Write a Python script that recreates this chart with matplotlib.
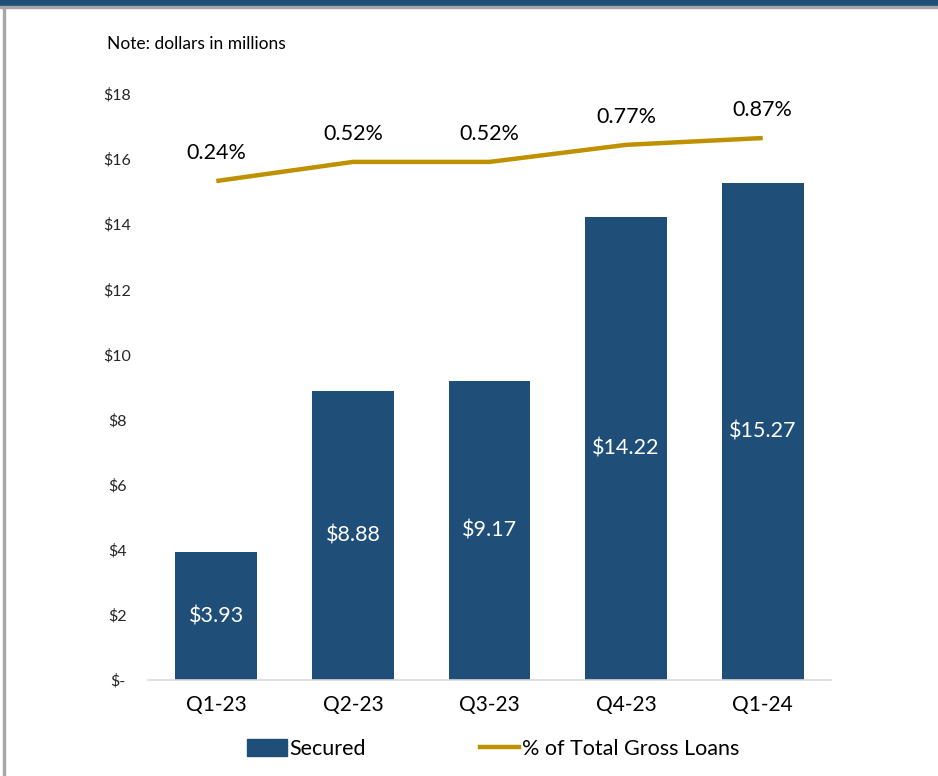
import matplotlib
matplotlib.use("Agg")
import matplotlib.pyplot as plt
from matplotlib.patches import Rectangle
from matplotlib.lines import Line2D

categories = ["Q1-23", "Q2-23", "Q3-23", "Q4-23", "Q1-24"]
secured = [3.93, 8.88, 9.17, 14.22, 15.27]
pct_loans = [0.24, 0.52, 0.52, 0.77, 0.87]
y_ticks = [0, 2, 4, 6, 8, 10, 12, 14, 16, 18]
y_ticklabels = ["$-", "$2", "$4", "$6", "$8", "$10", "$12", "$14", "$16", "$18"]

BAR = "#1F4E79"
GOLD = "#BF9000"
plt.rcParams["font.family"] = ["Lato", "DejaVu Sans"]

W, H = 938, 776
fig = plt.figure(figsize=(W / 100, H / 100), dpi=100)

# frame decorations
fig.patches.append(Rectangle((0, 1 - 6 / H), 1, 6 / H, transform=fig.transFigure,
                             color=BAR, zorder=0))
fig.patches.append(Rectangle((0, 1 - 8 / H), 1, 2 / H, transform=fig.transFigure,
                             color="#A6A6A6", zorder=0))
fig.patches.append(Rectangle((3 / W, 0), 2 / W, 1 - 8 / H, transform=fig.transFigure,
                             color="#A6A6A6", zorder=0))

left, right = 148 / W, 831 / W
bottom, top = 1 - 680 / H, 1 - 94 / H
ax = fig.add_axes([left, bottom, right - left, top - bottom])
x = list(range(len(categories)))
bars = ax.bar(x, secured, width=0.6, color=BAR, zorder=2)
ax.set_xlim(-0.5, 4.5)
ax.set_ylim(0, 18)
ax.set_yticks(y_ticks)
ax.set_yticklabels(y_ticklabels, fontsize=11.5, color="#262626")
ax.set_xticks(x)
ax.set_xticklabels(categories, fontsize=15, color="#000000")
ax.tick_params(axis="both", length=0)
ax.tick_params(axis="y", pad=22)
ax.tick_params(axis="x", pad=11)
for s in ["top", "right", "left"]:
    ax.spines[s].set_visible(False)
ax.spines["bottom"].set_color("#D9D9D9")
ax.spines["bottom"].set_linewidth(1.2)
for yl in ax.get_yticklabels():
    yl.set_horizontalalignment("center")

for xi, v in zip(x, secured):
    ax.text(xi, v / 2, f"${v:.2f}", ha="center", va="center", color="white",
            fontsize=15.5, zorder=3)

ax2 = ax.twinx()
ax2.set_ylim(-7.07, 1.515)
ax2.axis("off")
ax2.plot(x, pct_loans, color=GOLD, linewidth=3.2, solid_capstyle="butt")
for xi, v in zip(x, pct_loans):
    ax2.annotate(f"{v:.2f}%", (xi, v), xytext=(0, 28), textcoords="offset pixels",
                 ha="center", va="center", fontsize=15.5, color="#000000")

fig.text(107 / W, 1 - 44 / H, "Note: dollars in millions", fontsize=12.5,
         va="center", ha="left", color="#000000", fontstretch="condensed")

handles = [Rectangle((0, 0), 1, 1, color=BAR),
           Line2D([0], [0], color=GOLD, linewidth=3.2)]
fig.legend(handles, ["Secured", "% of Total Gross Loans"], loc="center",
           bbox_to_anchor=(493 / W, 1 - 749 / H), ncol=2, frameon=False,
           fontsize=15.5, handlelength=1.85, handletextpad=0.1, columnspacing=5.3,
           handleheight=0.85)

fig.savefig("out.png", dpi=100, facecolor="white")
